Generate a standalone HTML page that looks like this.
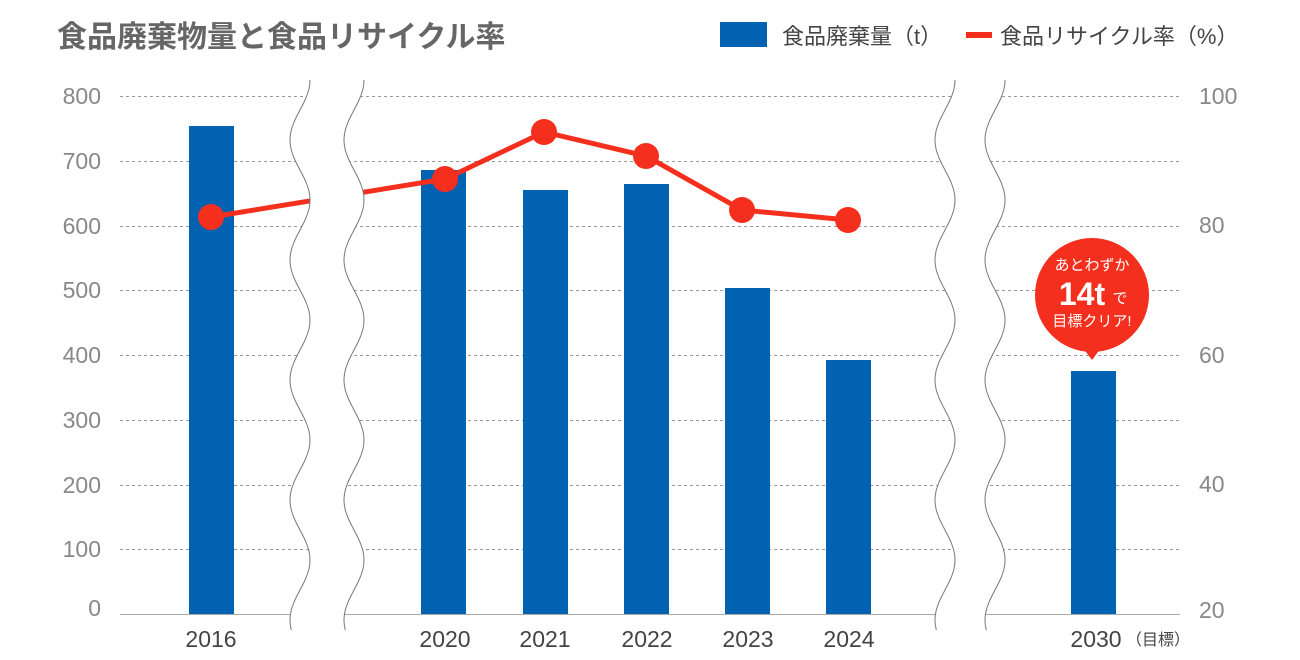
<!DOCTYPE html>
<html><head><meta charset="utf-8"><style>
html,body{margin:0;padding:0;background:#fff;}
svg{display:block;font-family:"Liberation Sans","Noto Sans CJK JP",sans-serif;}
</style></head><body>
<svg width="1300" height="660" viewBox="0 0 1300 660" xmlns="http://www.w3.org/2000/svg">
<text x="57" y="47" font-size="30" font-weight="bold" fill="#666">食品廃棄物量と食品リサイクル率</text>
<rect x="720" y="22" width="47" height="25" fill="#0062b0"/>
<text x="782" y="44" font-size="22" fill="#444">食品廃棄量（t）</text>
<rect x="966" y="32" width="26" height="6" fill="#f52f1e"/>
<text x="1000" y="44" font-size="22" fill="#444">食品リサイクル率（%）</text>
<g stroke="#999" stroke-width="1" stroke-dasharray="3,3">
<line x1="120" y1="96.5" x2="1180" y2="96.5"/>
<line x1="120" y1="161.5" x2="1180" y2="161.5"/>
<line x1="120" y1="226.5" x2="1180" y2="226.5"/>
<line x1="120" y1="290.5" x2="1180" y2="290.5"/>
<line x1="120" y1="355.5" x2="1180" y2="355.5"/>
<line x1="120" y1="420.5" x2="1180" y2="420.5"/>
<line x1="120" y1="485.5" x2="1180" y2="485.5"/>
<line x1="120" y1="549.5" x2="1180" y2="549.5"/>
</g>
<line x1="120" y1="614.5" x2="1180" y2="614.5" stroke="#aaa" stroke-width="1"/>
<g fill="#888" font-size="23">
<text x="101" y="104" text-anchor="end">800</text>
<text x="101" y="169" text-anchor="end">700</text>
<text x="101" y="234" text-anchor="end">600</text>
<text x="101" y="298" text-anchor="end">500</text>
<text x="101" y="363" text-anchor="end">400</text>
<text x="101" y="428" text-anchor="end">300</text>
<text x="101" y="493" text-anchor="end">200</text>
<text x="101" y="557" text-anchor="end">100</text>
<text x="101" y="616" text-anchor="end">0</text>
<text x="1199" y="104">100</text>
<text x="1199" y="233">80</text>
<text x="1199" y="363">60</text>
<text x="1199" y="492">40</text>
<text x="1199" y="618">20</text>
</g>
<g fill="#0062b0">
<rect x="189" y="126" width="45" height="488"/>
<rect x="421" y="170" width="45" height="444"/>
<rect x="523" y="190" width="45" height="424"/>
<rect x="624" y="184" width="45" height="430"/>
<rect x="725" y="288" width="45" height="326"/>
<rect x="826" y="360" width="45" height="254"/>
<rect x="1071" y="371" width="45" height="243"/>
</g>
<polyline points="211,217 445,179 544,132 646,156 742,210 848,220" fill="none" stroke="#f52f1e" stroke-width="5"/>
<g fill="#f52f1e">
<circle cx="211" cy="217" r="13"/><circle cx="445" cy="179" r="13"/><circle cx="544" cy="132" r="13"/>
<circle cx="646" cy="156" r="13"/><circle cx="742" cy="210" r="13"/><circle cx="848" cy="220" r="13"/>
</g>
<g id="brk"></g>
<script>
(function(){
function wave(cx,y0,y1){var p=[];for(var y=y0;y<=y1;y+=2){p.push((cx+10*Math.cos(2*Math.PI*(y-200)/120)).toFixed(1)+","+y);}return p;}
var g=document.getElementById("brk"),ns="http://www.w3.org/2000/svg";
[[300,354],[945,995]].forEach(function(pr){
 var a=wave(pr[0],80,630),b=wave(pr[1],80,630).reverse();
 var poly=document.createElementNS(ns,"polygon");poly.setAttribute("points",a.concat(b).join(" "));poly.setAttribute("fill","#fff");g.appendChild(poly);
 [a,b].forEach(function(pts){var l=document.createElementNS(ns,"polyline");l.setAttribute("points",pts.join(" "));l.setAttribute("fill","none");l.setAttribute("stroke","#777");l.setAttribute("stroke-width","1");g.appendChild(l);});
});
})();
</script>
<g fill="#444" font-size="23" text-anchor="middle">
<text x="211" y="647">2016</text>
<text x="445" y="647">2020</text>
<text x="545" y="647">2021</text>
<text x="647" y="647">2022</text>
<text x="748" y="647">2023</text>
<text x="849" y="647">2024</text>
<text x="1096" y="647">2030</text>
</g>
<text x="1126" y="645" font-size="16" fill="#444">（目標）</text>
<circle cx="1092" cy="295" r="57" fill="#f52f1e"/>
<polygon points="1083,348 1101,348 1092,360" fill="#f52f1e"/>
<g fill="#fff" text-anchor="middle">
<text x="1092" y="270" font-size="15">あとわずか</text>
<text x="1082" y="305" font-size="32" font-weight="bold">14t</text>
<text x="1120" y="303" font-size="15">で</text>
<text x="1092" y="326" font-size="15">目標クリア!</text>
</g>
</svg>
</body></html>
